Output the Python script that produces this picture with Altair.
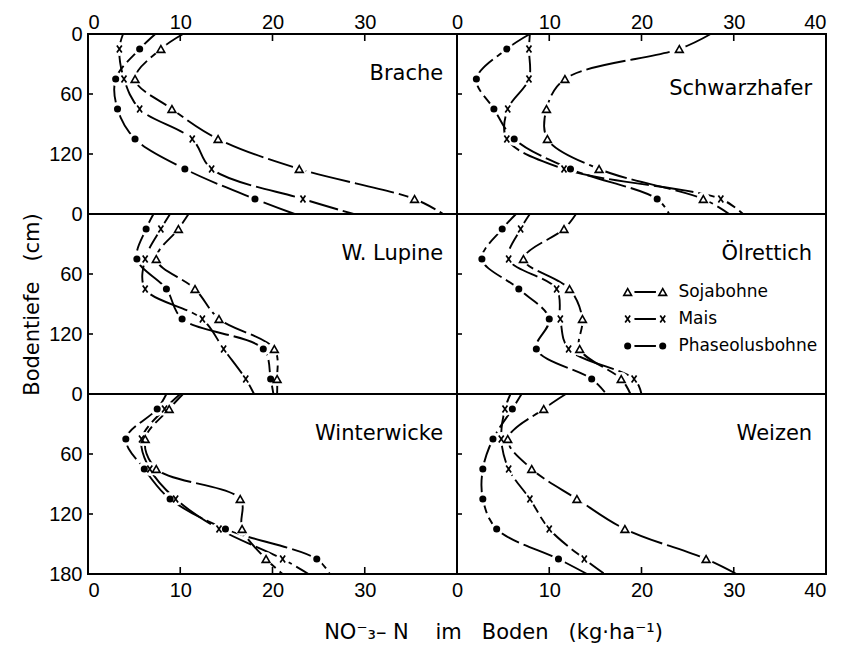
import altair as alt
import pandas as pd

# Soil sampling depths (cm); 0 and 180 are the curve ends at the panel borders
DEPTHS = [0, 15, 45, 75, 105, 135, 165, 180]
MEASURED = [15, 45, 75, 105, 135, 165]

PANELS = ["Brache", "Schwarzhafer", "W. Lupine", "Ölrettich", "Winterwicke", "Weizen"]
SERIES = ["Sojabohne", "Mais", "Phaseolusbohne"]

# NO3-N (kg/ha) per depth, one list per previous crop panel
SOJABOHNE = {
    "Brache":       [10.3, 7.9, 5.1, 9.1, 14.1, 22.9, 35.4, 38.5],
    "Schwarzhafer": [27.5, 24.1, 11.7, 9.7, 9.8, 15.4, 26.7, 29.5],
    "W. Lupine":    [10.9, 9.8, 7.4, 11.6, 14.2, 20.2, 20.5, 20.5],
    "Ölrettich":    [12.9, 11.6, 7.2, 12.2, 13.6, 13.3, 17.8, 18.8],
    "Winterwicke":  [10.3, 8.8, 6.2, 7.4, 16.5, 16.7, 19.3, 21.1],
    "Weizen":       [11.8, 9.4, 5.5, 8.1, 13.0, 18.2, 27.0, 30.3],
}
MAIS = {
    "Brache":       [3.8, 3.4, 3.9, 5.6, 11.3, 13.4, 23.3, 28.8],
    "Schwarzhafer": [7.9, 7.8, 7.8, 5.5, 5.4, 11.6, 28.6, 31.0],
    "W. Lupine":    [8.9, 7.9, 6.2, 6.2, 12.4, 14.7, 17.1, 18.0],
    "Ölrettich":    [7.9, 6.9, 5.6, 10.8, 11.2, 12.1, 19.2, 20.0],
    "Winterwicke":  [10.0, 8.3, 5.8, 6.7, 9.5, 14.2, 21.1, 23.9],
    "Weizen":       [5.8, 5.2, 4.8, 5.6, 7.9, 10.0, 13.8, 16.0],
}
PHASEOLUSBOHNE = {
    "Brache":       [7.3, 5.6, 3.0, 3.2, 5.1, 10.5, 18.1, 22.4],
    "Schwarzhafer": [7.9, 5.4, 2.1, 4.0, 6.2, 12.3, 21.7, 23.0],
    "W. Lupine":    [7.1, 6.3, 5.3, 8.5, 10.2, 19.0, 19.8, 20.1],
    "Ölrettich":    [6.4, 4.9, 2.7, 6.7, 10.0, 8.6, 14.6, 16.2],
    "Winterwicke":  [8.5, 7.5, 4.1, 6.1, 8.9, 14.9, 24.8, 26.2],
    "Weizen":       [7.0, 6.0, 3.9, 2.8, 2.8, 4.3, 11.0, 14.1],
}

X_TICKS = [0, 10, 20, 30, 40]
Y_TICKS = [0, 60, 120, 180]

# ---- layout of the 2 x 3 panel grid on one shared pair of scales ----
X_SPAN = X_TICKS[-1]
ROW_SPAN = Y_TICKS[-1]
N_COLS, N_ROWS = 2, 3
W, H = 738, 540
PX_X = (N_COLS * X_SPAN) / W       # data units per pixel along x
PX_Y = (N_ROWS * ROW_SPAN) / H     # data units per pixel along y
INNER_TICK = 7
SIDE_TICK = 5

FONT_NUM = "Liberation Sans"
FONT_TXT = "DejaVu Sans"
NBSP = "\u00a0"

values = {"Sojabohne": SOJABOHNE, "Mais": MAIS, "Phaseolusbohne": PHASEOLUSBOHNE}

rows = []
for i, panel in enumerate(PANELS):
    col, row = i % N_COLS, i // N_COLS
    for s in SERIES:
        for d, v in zip(DEPTHS, values[s][panel]):
            rows.append({
                "panel": panel, "series": s, "depth": d, "value": v,
                "key": f"{panel}|{s}", "measured": d in MEASURED,
                "gx": v + X_SPAN * col, "gy": d + ROW_SPAN * row,
            })
df = pd.DataFrame(rows)
pts = df[df["measured"]]

# legend inside the Ölrettich panel
LEG_PANEL = PANELS.index("Ölrettich")
leg_col, leg_row = LEG_PANEL % N_COLS, LEG_PANEL // N_COLS
LEG_DEPTHS = [78, 105, 132]
LEG_X1, LEG_X2, LEG_XT = 18.5, 22.3, 24.0
legend_pts = pd.DataFrame([
    {"series": s, "gx": x + X_SPAN * leg_col, "gy": d + ROW_SPAN * leg_row}
    for s, d in zip(SERIES, LEG_DEPTHS) for x in (LEG_X1, LEG_X2)
])
legend_rules = pd.DataFrame([
    {"series": s, "x": LEG_X1 + X_SPAN * leg_col, "x2": LEG_X2 + X_SPAN * leg_col,
     "y": d + ROW_SPAN * leg_row}
    for s, d in zip(SERIES, LEG_DEPTHS)
])
legend_text = pd.DataFrame([
    {"label": s, "gx": LEG_XT + X_SPAN * leg_col, "gy": d + ROW_SPAN * leg_row}
    for s, d in zip(SERIES, LEG_DEPTHS)
])

# panel names
LABEL_X = 38.5
label_depth = {p: 40 for p in PANELS}
label_depth["Schwarzhafer"] = 55
panel_labels = pd.DataFrame([
    {"label": p, "gx": LABEL_X + X_SPAN * (i % N_COLS),
     "gy": label_depth[p] + ROW_SPAN * (i // N_COLS)}
    for i, p in enumerate(PANELS)
])

# ---- scales and axes ----
xscale = alt.Scale(domain=[0, N_COLS * X_SPAN], nice=False, zero=False)
yscale = alt.Scale(domain=[0, N_ROWS * ROW_SPAN], reverse=True, nice=False, zero=False)

x_values = sorted(set(t + X_SPAN * c for c in range(N_COLS) for t in X_TICKS))
y_values = sorted(set(t + ROW_SPAN * r for r in range(N_ROWS) for t in Y_TICKS))

x_label_expr = f"'' + (datum.value > {X_SPAN} ? datum.value - {X_SPAN} : datum.value % {X_SPAN})"
y_label_expr = (f"datum.value == {N_ROWS * ROW_SPAN} ? '{ROW_SPAN}' : "
                f"'' + (datum.value % {ROW_SPAN})")

x_title = ("NO\u207b\u2083\u2013" + NBSP + "N" + NBSP * 4 + "im" + NBSP * 3 +
           "Boden" + NBSP * 3 + "(kg\u00b7ha\u207b\u00b9)")

axis_common = dict(
    values=x_values, labelExpr=x_label_expr, ticks=False, domain=False, grid=False,
    labelFont=FONT_NUM, labelFontSize=20, labelColor="black", labelOverlap=False,
)
bottom_axis = alt.Axis(
    orient="bottom", labelPadding=6, title=x_title,
    titleFont=FONT_TXT, titleFontSize=21, titleFontWeight="normal", titleColor="black",
    titleX=405, titleY=64, titleAlign="center", titleBaseline="alphabetic",
    **axis_common,
)
top_axis = alt.Axis(orient="top", labelPadding=2, title=None, **axis_common)
left_axis = alt.Axis(
    orient="left", values=y_values, labelExpr=y_label_expr, ticks=False,
    domain=False, grid=False, labelFont=FONT_NUM, labelFontSize=20,
    labelColor="black", labelPadding=6, labelOverlap=False,
    title="Bodentiefe" + NBSP * 3 + "(cm)", titleFont=FONT_TXT, titleFontSize=21,
    titleFontWeight="normal", titleColor="black", titlePadding=6,
)

X = lambda f="gx", axis=None: alt.X(f"{f}:Q", scale=xscale, axis=axis)
Y = lambda f="gy", axis=None: alt.Y(f"{f}:Q", scale=yscale, axis=axis)

# ---- curves ----
curves = alt.Chart(df).mark_line(
    interpolate="catmull-rom", stroke="black", strokeWidth=1.9, strokeDash=[40, 5]
).encode(x=X(), y=Y(axis=left_axis), detail="key:N", order="depth:Q")

leg_lines = alt.Chart(legend_rules).mark_rule(stroke="black", strokeWidth=1.8).encode(
    x=X("x"), x2="x2:Q", y=Y("y")
)

def marker_layers(data):
    halo = alt.Chart(data).mark_point(
        shape="circle", filled=True, color="white", size=190, opacity=1
    ).encode(x=X(), y=Y())
    tri = alt.Chart(data).transform_filter("datum.series == 'Sojabohne'").mark_point(
        shape="triangle-up", fill="white", stroke="black", strokeWidth=1.6,
        size=60, opacity=1, fillOpacity=1,
    ).encode(x=X(), y=Y())
    cross = alt.Chart(data).transform_filter("datum.series == 'Mais'").mark_point(
        shape="M-0.7,-1L0.7,1M0.7,-1L-0.7,1", filled=False, color="black",
        strokeWidth=1.7, size=50, opacity=1,
    ).encode(x=X(), y=Y())
    dot = alt.Chart(data).transform_filter("datum.series == 'Phaseolusbohne'").mark_point(
        shape="circle", filled=True, color="black", size=50, opacity=1
    ).encode(x=X(), y=Y())
    return [halo, tri, cross, dot]

# ---- panel dividers and inward ticks ----
dividers = pd.DataFrame(
    [{"x": X_SPAN * c, "x2": X_SPAN * c, "y": 0, "y2": N_ROWS * ROW_SPAN}
     for c in range(1, N_COLS)] +
    [{"x": 0, "x2": N_COLS * X_SPAN, "y": ROW_SPAN * r, "y2": ROW_SPAN * r}
     for r in range(1, N_ROWS)]
)
divider_layer = alt.Chart(dividers).mark_rule(stroke="black", strokeWidth=2).encode(
    x=X("x", axis=bottom_axis), x2="x2:Q", y=Y("y"), y2="y2:Q"
)

inner_x = [v for v in x_values if v % X_SPAN != 0]
inner_y = [v for v in y_values if v % ROW_SPAN != 0]
tick_rows = []
top = 0
bottom = N_ROWS * ROW_SPAN
for v in inner_x:
    tick_rows.append({"x": v, "x2": v, "y": top, "y2": top + INNER_TICK * PX_Y})
    tick_rows.append({"x": v, "x2": v, "y": bottom, "y2": bottom - INNER_TICK * PX_Y})
for c in range(N_COLS):
    for v in inner_y:
        tick_rows.append({"x": X_SPAN * c, "x2": X_SPAN * c + SIDE_TICK * PX_X,
                          "y": v, "y2": v})
ticks = alt.Chart(pd.DataFrame(tick_rows)).mark_rule(stroke="black", strokeWidth=1.6).encode(
    x=X("x", axis=top_axis), x2="x2:Q", y=Y("y"), y2="y2:Q"
)

# ---- text ----
names = alt.Chart(panel_labels).mark_text(
    align="right", baseline="middle", font=FONT_TXT, fontSize=21, color="black"
).encode(x=X(), y=Y(), text="label:N")

leg_labels = alt.Chart(legend_text).mark_text(
    align="left", baseline="middle", font=FONT_TXT, fontSize=17, color="black"
).encode(x=X(), y=Y(), text="label:N")

chart = alt.layer(
    curves, leg_lines,
    *marker_layers(pts), *marker_layers(legend_pts),
    divider_layer, ticks, names, leg_labels,
).resolve_axis(x="independent", y="independent").properties(
    width=W, height=H,
    autosize=alt.AutoSizeParams(type="none"),
    padding={"left": 88, "top": 34, "right": 25, "bottom": 72},
    background="white",
).configure_view(stroke="black", strokeWidth=2)

chart.save("out.html", embed_options={"renderer": "svg", "actions": False})
